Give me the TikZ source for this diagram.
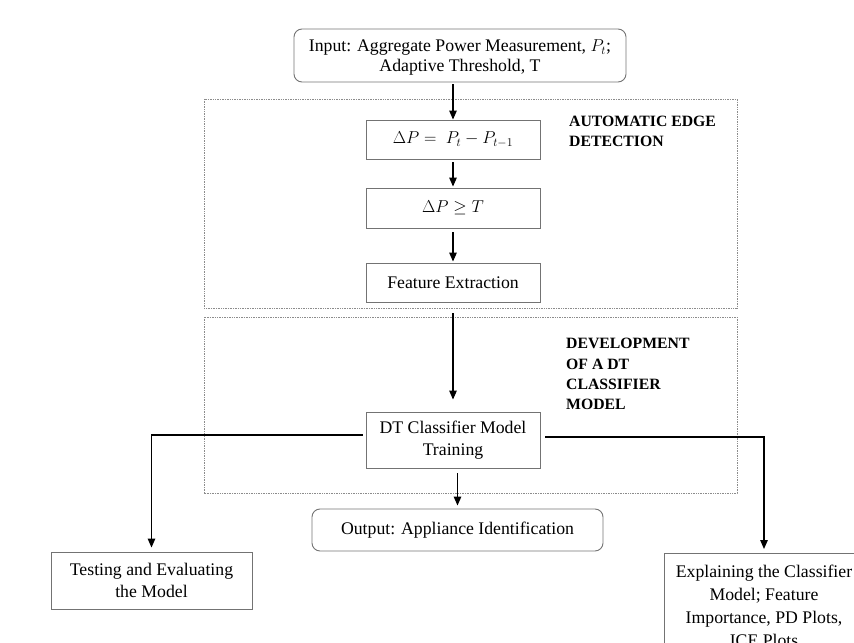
\documentclass[tikz,border=0pt]{standalone}
\usepackage{fontspec}
\setmainfont{Liberation Serif}
\usetikzlibrary{arrows.meta,calc}

\begin{document}
\begin{tikzpicture}[x=1bp,y=-1bp,
  every node/.style={font=\fontsize{17.8}{22}\selectfont, text=black},
  box/.style={draw=black!55, line width=0.9bp, align=center, inner sep=0pt},
  rbox/.style={box, rounded corners=8bp},
  frame/.style={draw=black!45, line width=0.8bp, dash pattern=on 1bp off 0.7bp},
  arr/.style={draw=black, line width=1.3bp, -{Triangle[length=9bp,width=7.5bp]}},
  heading/.style={font=\fontsize{15.8}{20.5}\selectfont\bfseries, align=left,
    inner sep=0pt, anchor=north west}
]
\useasboundingbox (0,0) rectangle (854,643);

% dotted frames around the two stages
\draw[frame] (204,99) rectangle (737,308);
\draw[frame] (204,317) rectangle (737,493);

% stage headings
\node[heading] (h1) at (569,115.5) {AUTOMATIC EDGE\\DETECTION};
\node[heading] (h2) at (566,338) {DEVELOPMENT\\OF A DT\\CLASSIFIER\\MODEL};

% process boxes
\node[rbox, minimum width=332bp, minimum height=53bp, text depth=0pt,
      font=\fontsize{17.8}{19.4}\selectfont] (in) at (460,55.5)
  {Input: Aggregate Power Measurement, $P_t$;\\Adaptive Threshold, T};
\node[box, minimum width=174bp, minimum height=39bp] (dp) at (453,139.5)
  {$\Delta P =\ P_t - P_{t-1}$};
\node[box, minimum width=174bp, minimum height=40bp] (th) at (453,208)
  {$\Delta P \geq T$};
\node[box, minimum width=174bp, minimum height=39bp] (fe) at (453,282.5)
  {Feature Extraction};
\node[box, minimum width=174bp, minimum height=56bp] (dt) at (453,440)
  {DT Classifier Model\\Training};
\node[rbox, minimum width=291bp, minimum height=42bp] (out) at (457.5,530)
  {Output: Appliance Identification};
\node[box, minimum width=201bp, minimum height=57bp] (test) at (151.5,580.5)
  {Testing and Evaluating\\the Model};
\node[box, anchor=north, minimum width=200bp, inner ysep=12bp,
      font=\fontsize{17.8}{23}\selectfont] (ex) at (764,553)
  {Explaining the Classifier\\Model; Feature\\Importance, PD Plots,\\ICE Plots};

% connectors
\draw[arr, shorten <=2bp] (dp.north |- in.south) -- (dp.north);
\draw[arr, shorten <=3bp, shorten >=1bp] (dp) -- (th);
\draw[arr, shorten <=4bp, shorten >=1bp] (th) -- (fe);
\draw[arr, shorten <=11bp, shorten >=12bp] (fe) -- (dt);
\draw[arr, shorten <=5bp, shorten >=3bp] (out.north |- dt.south) -- (out.north);
\draw[arr, shorten >=4bp] ($(dt.west)+(-3,-5)$) -| (test.north);
\draw[arr, shorten >=4bp] ($(dt.east)+(5,-3)$) -| (ex.north);
\end{tikzpicture}
\end{document}
